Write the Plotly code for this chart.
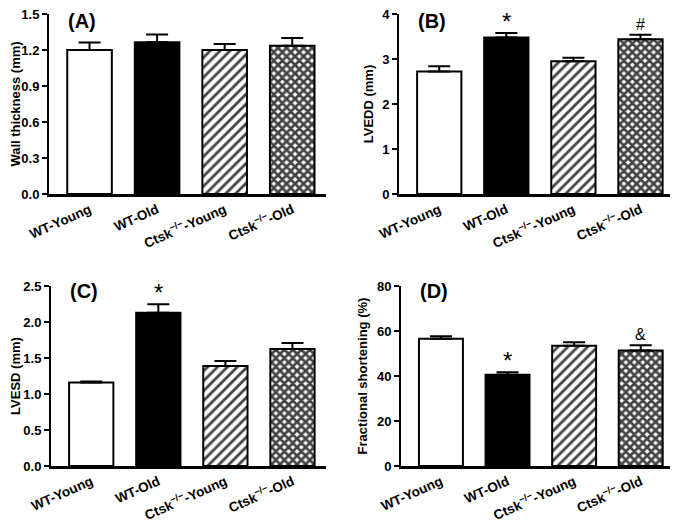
import plotly.graph_objects as go

# === Data ===
groups = ["WT-Young", "WT-Old", "Ctsk<sup>−/−</sup>-Young", "Ctsk<sup>−/−</sup>-Old"]

wall = [1.20, 1.265, 1.20, 1.235]
wall_err = [0.063, 0.065, 0.05, 0.065]

lvedd = [2.72, 3.48, 2.95, 3.44]
lvedd_err = [0.12, 0.10, 0.08, 0.10]

lvesd = [1.16, 2.13, 1.39, 1.625]
lvesd_err = [0.015, 0.115, 0.07, 0.085]

fs = [56.6, 40.5, 53.4, 51.3]
fs_err = [1.1, 1.2, 1.6, 2.4]

panels = [
    # name, values, errors, y title, ymax, dtick, fmt, marks
    ("(A)", wall, wall_err, "Wall thickness (mm)", 1.5, 0.3, ".1f", ["", "", "", ""]),
    ("(B)", lvedd, lvedd_err, "LVEDD (mm)", 4, 1, "d", ["", "*", "", "#"]),
    ("(C)", lvesd, lvesd_err, "LVESD (mm)", 2.5, 0.5, ".1f", ["", "*", "", ""]),
    ("(D)", fs, fs_err, "Fractional shortening (%)", 80, 20, "d", ["", "*", "", "&"]),
]

# page body adds an 8px margin, so the figure is 8px smaller and boxes shifted
OFF = 8
W, H = 678 - OFF, 531 - OFF
# pixel boxes of each plot area in the page: x0, x1, ytop, ybottom
boxes = [(49, 326, 14, 194), (399, 674, 14, 194),
         (51, 326, 286, 466), (401, 674, 286, 466)]

FONT = "Liberation Sans, Arial, sans-serif"

fig = go.Figure()
layout = {}
annotations = []

for i, (name, vals, errs, ytitle, ymax, dtick, fmt, marks) in enumerate(panels):
    n = i + 1
    xa = "x" if n == 1 else f"x{n}"
    ya = "y" if n == 1 else f"y{n}"
    x0, x1, yt, yb = [v - OFF for v in boxes[i]]

    fig.add_trace(go.Bar(
        x=groups, y=vals, xaxis=xa, yaxis=ya, width=0.66,
        marker=dict(
            color=["white", "black", "white", "white"],
            line=dict(color="black", width=2),
            pattern=dict(shape=["", "", "/", "x"], fgcolor="black", fgopacity=1,
                         bgcolor="white", size=[7, 7, 7, 6],
                         solidity=[0, 0, 0.4, 0.7]),
        ),
        error_y=dict(type="data", array=errs, arrayminus=[0] * 4,
                     symmetric=False, color="black", thickness=2, width=11),
        showlegend=False,
    ))

    layout["xaxis" if n == 1 else f"xaxis{n}"] = dict(
        domain=[x0 / W, min(x1 / W, 1)], anchor=ya, range=[-0.6, 3.5], automargin=False,
        showline=True, linecolor="black", linewidth=2.5, ticks="",
        tickangle=-24, ticklabeloverflow="allow",
        tickfont=dict(family=FONT, size=13.5, color="black", weight="bold"),
        showgrid=False, zeroline=False, fixedrange=True,
    )
    layout["yaxis" if n == 1 else f"yaxis{n}"] = dict(
        domain=[1 - yb / H, 1 - yt / H], anchor=xa, range=[0, ymax], automargin=False,
        dtick=dtick, tickformat=fmt, showline=True, linecolor="black",
        linewidth=2, ticks="outside", ticklen=5, tickwidth=2, tickcolor="black",
        ticklabeloverflow="allow",
        tickfont=dict(family=FONT, size=13, color="black", weight="bold"),
        title=dict(text=ytitle, standoff=6,
                   font=dict(family=FONT, size=13, color="black", weight="bold")),
        showgrid=False, zeroline=False, fixedrange=True,
    )

    top = 1 if yt < 30 else 1 - (yt - 8) / H
    annotations.append(dict(
        text=name, xref="paper", yref="paper", x=(x0 + 17) / W, y=top,
        xanchor="left", yanchor="top", showarrow=False,
        font=dict(family=FONT, size=20, color="black", weight="bold"),
    ))
    for g, v, e, m in zip(groups, vals, errs, marks):
        if m:
            annotations.append(dict(
                text=m, x=g, y=v + e, xref=xa, yref=ya, yanchor="bottom",
                showarrow=False, yshift=-4 if m == "*" else 0,
                font=dict(family=FONT, size=24 if m == "*" else 16, color="black"),
            ))

fig.update_layout(
    width=W, height=H, margin=dict(l=0, r=0, t=0, b=0, autoexpand=False),
    paper_bgcolor="white", plot_bgcolor="white",
    annotations=annotations, bargap=0.3, **layout,
)

fig.write_html("out.html")
